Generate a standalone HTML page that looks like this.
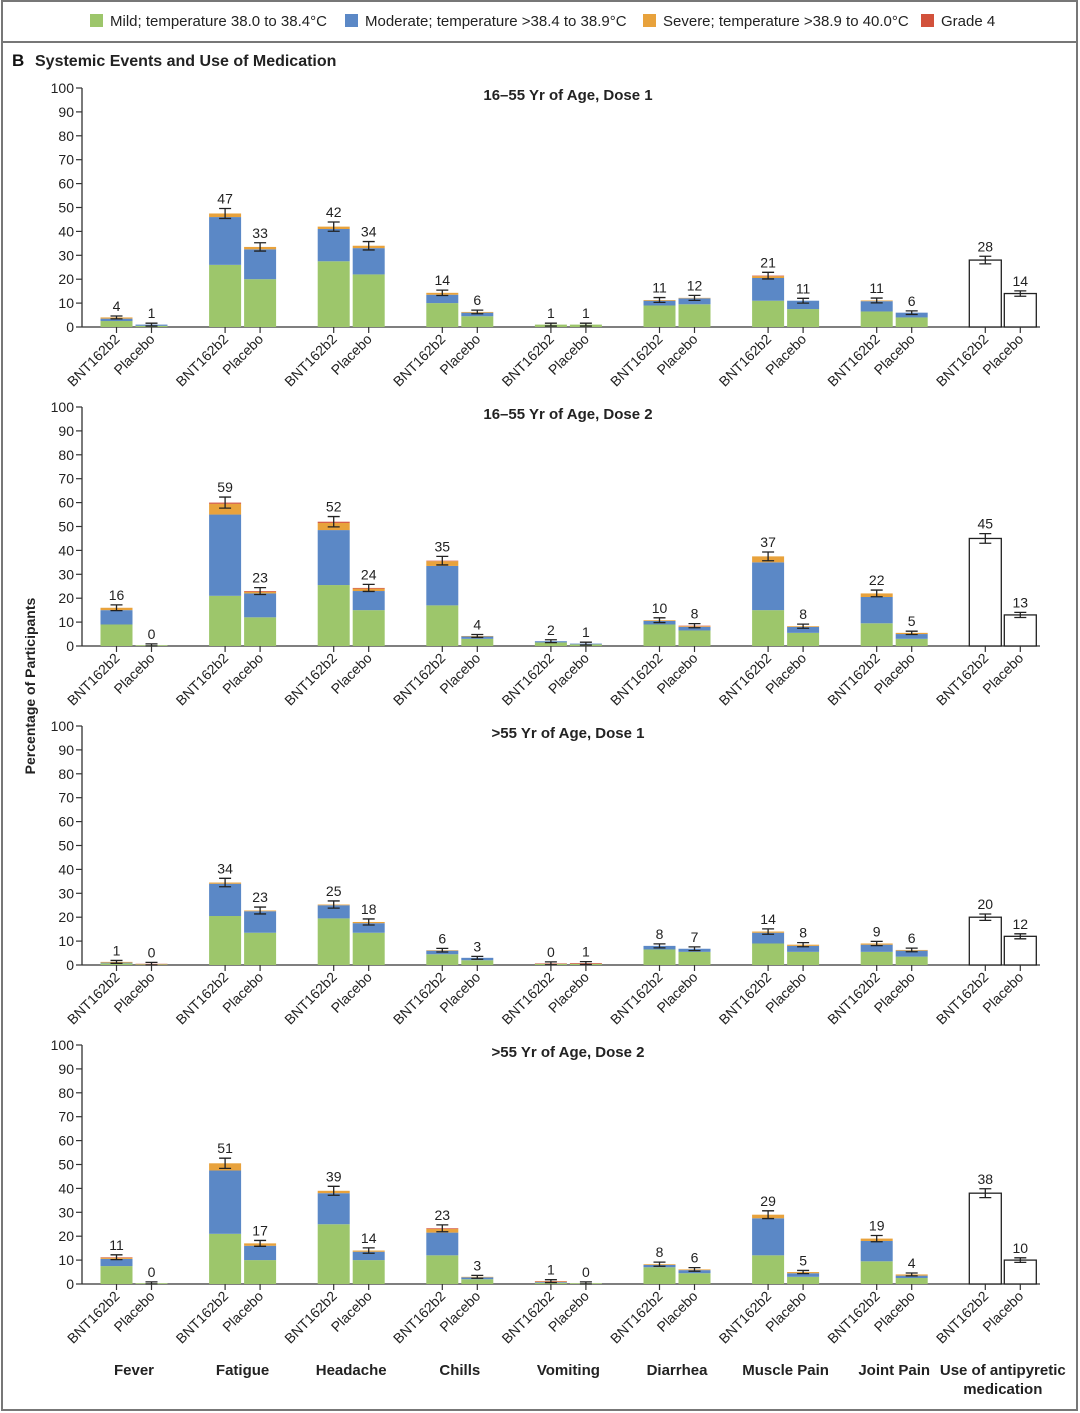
<!DOCTYPE html>
<html><head><meta charset="utf-8">
<style>
body{margin:0;background:#fff;}
svg{display:block;font-family:"Liberation Sans","DejaVu Sans",sans-serif;}
</style></head>
<body>
<svg id="chart" width="1080" height="1413" viewBox="0 0 1080 1413" xmlns="http://www.w3.org/2000/svg">
<rect x="2" y="1" width="1075" height="1409" fill="none" stroke="#777" stroke-width="2"/>
<line x1="2" y1="42" x2="1077" y2="42" stroke="#777" stroke-width="2"/>
<g>
 <g><rect x="90" y="14" width="13" height="13" fill="#9dc66b"/><text x="110" y="26" font-size="15" fill="#222">Mild; temperature 38.0 to 38.4°C</text></g>
 <g><rect x="345" y="14" width="13" height="13" fill="#5b88c6"/><text x="365" y="26" font-size="15" fill="#222">Moderate; temperature &gt;38.4 to 38.9°C</text></g>
 <g><rect x="643" y="14" width="13" height="13" fill="#e8a23c"/><text x="663" y="26" font-size="15" fill="#222">Severe; temperature &gt;38.9 to 40.0°C</text></g>
 <g><rect x="921" y="14" width="13" height="13" fill="#d2513b"/><text x="941" y="26" font-size="15" fill="#222">Grade 4</text></g>
</g>
<text x="12" y="66" font-size="17" font-weight="bold" fill="#111">B</text>
<text x="35" y="66" font-size="16" font-weight="bold" fill="#222">Systemic Events and Use of Medication</text>
<text transform="translate(35,686) rotate(-90)" text-anchor="middle" font-size="14" font-weight="bold" fill="#222">Percentage of Participants</text>
<g id="plots"></g>
</svg>
<script>
const categories = ["Fever","Fatigue","Headache","Chills","Vomiting","Diarrhea","Muscle Pain","Joint Pain","Use of antipyretic medication"];
const panelTitles = ["16\u201355 Yr of Age, Dose 1","16\u201355 Yr of Age, Dose 2",">55 Yr of Age, Dose 1",">55 Yr of Age, Dose 2"];
const yTicks = [0,10,20,30,40,50,60,70,80,90,100];
const groupLabels = ["BNT162b2","Placebo"];
// [mild, moderate, severe, grade4] per bar; pairs per category (BNT, Placebo)
const panel1 = [[[2.5,1,0.5,0],[0.5,0.5,0,0]],[[26,20,1.5,0],[20,12.5,1,0]],[[27.5,13.5,1,0],[22,11,1,0]],[[10,3.5,0.8,0],[4.5,1.5,0.3,0]],[[1,0,0,0],[1,0,0,0]],[[9,2,0.3,0],[9.5,2.5,0.2,0]],[[11,9.5,0.8,0.2],[7.5,3.5,0,0]],[[6.5,4.3,0.3,0],[4,2,0,0]]];
const panel2 = [[[9,6,1,0],[0.3,0,0,0]],[[21,34,4.5,0.5],[12,10,0.7,0.3]],[[25.5,23,3,0.5],[15,8,1,0.3]],[[17,16.5,2,0.2],[3,1,0.2,0]],[[1.5,0.5,0,0],[0.7,0.3,0,0]],[[9,1.5,0.3,0],[6.5,1.5,0.3,0.2]],[[15,20,2.5,0],[5.5,2.5,0.3,0]],[[9.5,11,1.5,0],[3,2,0.5,0]]];
const panel3 = [[[0.7,0.3,0.3,0],[0.3,0,0,0.2]],[[20.5,13.5,0.5,0],[13.5,9,0.3,0]],[[19.5,5.5,0.3,0],[13.5,4,0.5,0]],[[4.5,1.5,0.2,0],[2,1,0,0]],[[0.5,0,0,0.2],[0.5,0,0,0.3]],[[6.5,1.5,0,0],[5.5,1.3,0,0]],[[9,4.5,0.5,0],[5.5,2.5,0.5,0]],[[5.5,3,0.5,0],[3.5,2.5,0.3,0]]];
const panel4 = [[[7.5,3,0.5,0.2],[0.3,0,0,0]],[[21,26.5,3,0],[10,6,1,0]],[[25,13,1,0],[10,3.5,0.5,0]],[[12,9.5,1.5,0.3],[2,0.8,0.2,0]],[[0.5,0.3,0.2,0.2],[0.3,0,0,0]],[[7,1,0.3,0],[4.5,1.3,0.3,0]],[[12,15.5,1.5,0],[3,1.5,0.5,0]],[[9.5,8.5,1,0],[2.5,1,0.5,0]]];
const totals1 = [[4,1],[47,33],[42,34],[14,6],[1,1],[11,12],[21,11],[11,6]];
const totals2 = [[16,0],[59,23],[52,24],[35,4],[2,1],[10,8],[37,8],[22,5]];
const totals3 = [[1,0],[34,23],[25,18],[6,3],[0,1],[8,7],[14,8],[9,6]];
const totals4 = [[11,0],[51,17],[39,14],[23,3],[1,0],[8,6],[29,5],[19,4]];
const antipyretic = [[28,14],[45,13],[20,12],[38,10]];

const panels=[panel1,panel2,panel3,panel4];
const totals=[totals1,totals2,totals3,totals4];
const colors=["#9dc66b","#5b88c6","#e8a23c","#d2513b"];
const NS="http://www.w3.org/2000/svg";
const root=document.getElementById("plots");
function mk(tag,attrs,parent){const e=document.createElementNS(NS,tag);for(const k in attrs)e.setAttribute(k,attrs[k]);parent.appendChild(e);return e;}
const axisX=82, axisRight=1040, bw=32;
function groupCenter(i){return 134+i*108.6;}
function barX(i,j){return groupCenter(i)+(j===0?-17.5:17.5);}

panels.forEach((pd,p)=>{
  const y0=327+p*319, sc=2.39;
  const yv=v=>y0-v*sc;
  const g=mk("g",{},root);
  
  
  const t=mk("text",{x:568,y:y0-227,"text-anchor":"middle","font-size":"15","font-weight":"bold",fill:"#222"},g);
  t.textContent=panelTitles[p];
  
  
  const ax=mk("line",{x1:axisX,y1:yv(100),x2:axisX,y2:y0,stroke:"#333","stroke-width":1.3},g);
  
  
  const xa=mk("line",{x1:axisX,y1:y0,x2:axisRight,y2:y0,stroke:"#333","stroke-width":1.3},g);
  
  
  yTicks.forEach(v=>{
    const tk=mk("line",{x1:axisX-6,y1:yv(v),x2:axisX,y2:yv(v),stroke:"#333","stroke-width":1.2},g);
    
    
    const tl=mk("text",{x:axisX-8,y:yv(v)+5,"text-anchor":"end","font-size":"14",fill:"#222"},g);
    tl.textContent=v;
    
    
  });
  categories.forEach((c,i)=>{
    [0,1].forEach(j=>{
      const x=barX(i,j);
      let total, top;
      if(i<8){
        let acc=0;
        pd[i][j].forEach((s,k)=>{
          if(s<=0)return;
          const r=mk("rect",{x:x-bw/2,y:yv(acc+s),width:bw,height:s*sc,fill:colors[k]},g);
          
          
          acc+=s;
        });
        total=totals[p][i][j]; top=acc;
      } else {
        total=antipyretic[p][j]; top=total;
        const r=mk("rect",{x:x-bw/2,y:yv(total),width:bw,height:total*sc,fill:"#fff",stroke:"#222","stroke-width":1.3},g);
        
        
      }
      const err=Math.max(0.6,Math.sqrt(Math.max(top,0.5))*0.3);
      const eg=mk("path",{d:`M${x-6},${yv(top+err)}H${x+6}M${x},${yv(top+err)}V${yv(Math.max(top-err,0))}M${x-6},${yv(Math.max(top-err,0))}H${x+6}`,stroke:"#222","stroke-width":1.3,fill:"none"},g);
      
      
      const vl=mk("text",{x:x,y:yv(top+err)-5,"text-anchor":"middle","font-size":"14",fill:"#222"},g);
      vl.textContent=total;
      
      
      const xt=mk("line",{x1:x,y1:y0,x2:x,y2:y0+6,stroke:"#333","stroke-width":1.2},g);
      
      
      const xl=mk("text",{transform:`translate(${x+4},${y0+13}) rotate(-45)`,"text-anchor":"end","font-size":"14",fill:"#222"},g);
      xl.textContent=groupLabels[j];
      
      
    });
  });
});
categories.forEach((c,i)=>{
  const lines=i===8?["Use of antipyretic","medication"]:[c];
  lines.forEach((ln,k)=>{
    const t=mk("text",{x:groupCenter(i),y:1375+k*19,"text-anchor":"middle","font-size":"15","font-weight":"bold",fill:"#222"},root);
    t.textContent=ln;
    
    
  });
});
</script>
</body></html>
